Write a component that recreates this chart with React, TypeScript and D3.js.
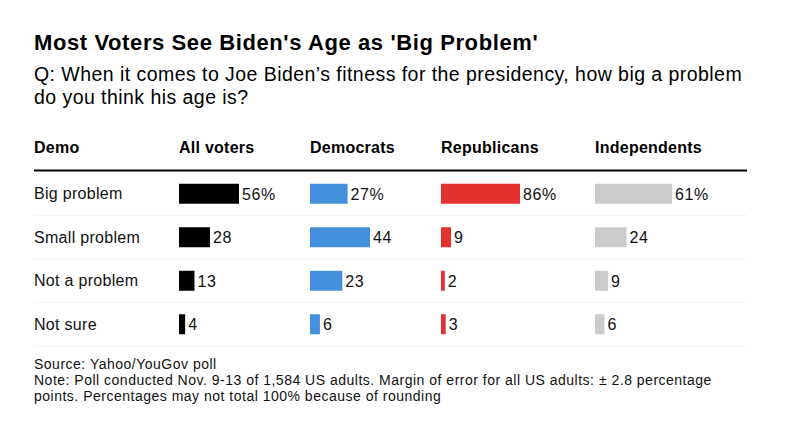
import React from "react";
import * as d3 from "d3";

const title = "Most Voters See Biden's Age as 'Big Problem'";
const subtitleLines = [
  "Q: When it comes to Joe Biden\u2019s fitness for the presidency, how big a problem",
  "do you think his age is?",
];
const headerLabel = "Demo";
const groups = ["All voters", "Democrats", "Republicans", "Independents"];
const categories = ["Big problem", "Small problem", "Not a problem", "Not sure"];
const allVoters = [56, 28, 13, 4];
const democrats = [27, 44, 23, 6];
const republicans = [86, 9, 2, 3];
const independents = [61, 24, 9, 6];
const footerLines = [
  "Source: Yahoo/YouGov poll",
  "Note: Poll conducted Nov. 9-13 of 1,584 US adults. Margin of error for all US adults: \u00b1 2.8 percentage",
  "points. Percentages may not total 100% because of rounding",
];

const seriesValues = [allVoters, democrats, republicans, independents];
const colors = ["#000000", "#4590dd", "#e3312f", "#cbcbcb"];
const colStarts = [179, 310, 441, 595];
const colMaxW = [60, 60, 79, 77];

const FONT = "'Liberation Sans', Arial, Helvetica, sans-serif";

export default function App() {
  const W = 800;
  const H = 434;
  const left = 34;
  const right = 747;
  const rowScale = d3
    .scaleBand<string>()
    .domain(categories)
    .range([172, 346])
    .paddingInner(0)
    .paddingOuter(0);
  const barH = 20;

  return (
    <svg
      width={W}
      height={H}
      style={{ position: "absolute", left: 0, top: 0, background: "#fff" }}
      fontFamily={FONT}
    >
      <rect width={W} height={H} fill="#fff" />
      <text x={left} y={50} fontSize={22} fontWeight="bold" fill="#000" letterSpacing={0.6}>
        {title}
      </text>
      {subtitleLines.map((l, i) => (
        <text key={i} x={left} y={81 + i * 23} fontSize={19.5} fill="#000" letterSpacing={0.45}>
          {l}
        </text>
      ))}
      <text x={left} y={153} fontSize={16} fontWeight="bold" fill="#000" letterSpacing={0.25}>
        {headerLabel}
      </text>
      {groups.map((g, i) => (
        <text key={g} x={colStarts[i]} y={153} fontSize={16} fontWeight="bold" fill="#000" letterSpacing={0.25}>
          {g}
        </text>
      ))}
      <line x1={left} x2={right} y1={170.5} y2={170.5} stroke="#000" strokeWidth={2} />
      {categories.map((c, r) => {
        const y0 = rowScale(c)!;
        const bw = rowScale.bandwidth();
        const cy = y0 + bw / 2;
        return (
          <g key={c}>
            <line x1={left} x2={right} y1={y0 + bw} y2={y0 + bw} stroke="#f4f4f4" strokeWidth={1} />
            <text x={left} y={cy + 5.5} fontSize={16} fill="#111" letterSpacing={0.3}>
              {c}
            </text>
            {groups.map((g, i) => {
              const vals = seriesValues[i];
              const x = d3
                .scaleLinear()
                .domain([0, d3.max(vals)!])
                .range([2, colMaxW[i]]);
              const w = x(vals[r]);
              return (
                <g key={g}>
                  <rect x={colStarts[i]} y={cy - barH / 2} width={w} height={barH} fill={colors[i]} />
                  <text x={colStarts[i] + w + 3} y={cy + 6} fontSize={16} fill="#111" letterSpacing={0.6}>
                    {r === 0 ? `${vals[r]}%` : `${vals[r]}`}
                  </text>
                </g>
              );
            })}
          </g>
        );
      })}
      {footerLines.map((l, i) => (
        <text key={i} x={left} y={369 + i * 16} fontSize={14} fill="#111" letterSpacing={0.5}>
          {l}
        </text>
      ))}
    </svg>
  );
}
